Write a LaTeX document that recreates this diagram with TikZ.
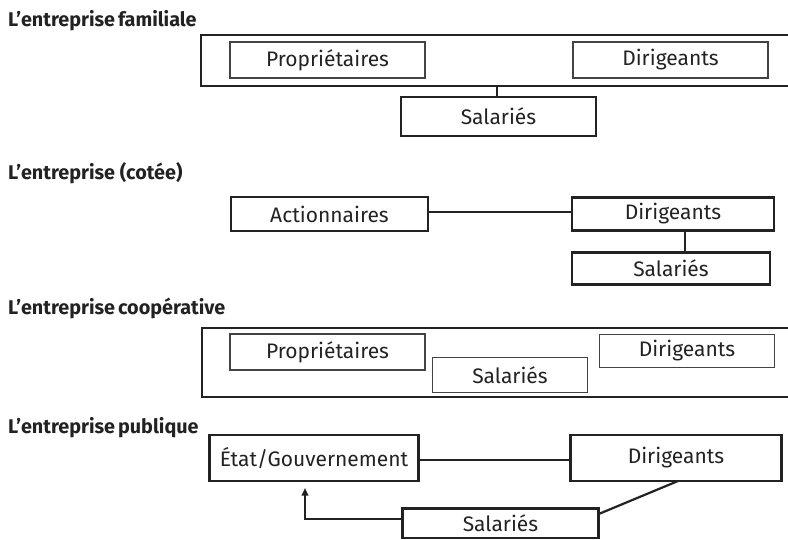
\documentclass[tikz,border=0pt]{standalone}
\usepackage{fontspec}
\setmainfont{Fira Sans}
\usetikzlibrary{arrows.meta}
\definecolor{ink}{HTML}{222222}
\tikzset{
  sz/.style 2 args={minimum width=#1pt, minimum height=#2pt},
  box/.style={draw=ink, text=ink, rectangle, inner sep=0pt, outer sep=0pt,
    font=\fontsize{21}{25}\selectfont},
  thinbox/.style={box, line width=1.3pt, draw=ink!85},
  thickbox/.style={box, line width=2.6pt},
  frame/.style={draw=ink, line width=2.8pt},
  link/.style={draw=ink, line width=2.2pt},
  titletext/.style={anchor=base west, inner sep=0pt, text=ink,
    font=\fontsize{19.8}{23}\selectfont\bfseries}
}
\begin{document}
\begin{tikzpicture}[x=1pt,y=-1pt]
\useasboundingbox (0,0) rectangle (788,540);

% ---------- Section 1 ----------
\node[titletext] (t1) at (8,26.5) {L’entreprise\hspace{3pt}familiale};
\draw[frame] (788,35) -- (201,35) -- (201,86) -- (788,86);
\node[thinbox, sz={195}{36}] (p1) at (327.5,60) {Propriétaires};
\node[thinbox, sz={195}{36}] (d1) at (670.5,60) {Dirigeants};
\node[thickbox, sz={195}{39}] (s1) at (498.5,116.5) {Salariés};
\coordinate (f1) at (497,86);
\draw[link] (f1) -- (f1 |- s1.north);

% ---------- Section 2 ----------
\node[titletext] (t2) at (8,180) {L’entreprise (cotée)};
\node[thickbox, sz={197}{34}] (act) at (329.5,214) {Actionnaires};
\node[thickbox, sz={202}{33.5}] (d2) at (673,214) {Dirigeants};
\node[thickbox, sz={198}{31.5}] (s2) at (671,268.5) {Salariés};
\draw[link] ([yshift=2pt]act.east) -- ([yshift=2pt]d2.west);
\draw[link] ([xshift=12pt]d2.south) -- ([xshift=12pt]d2.south |- s2.north);

% ---------- Section 3 ----------
\node[titletext] (t3) at (8,315) {L’entreprise\hspace{3pt}coopérative};
\draw[frame] (788,328) -- (202,328) -- (202,397) -- (788,397);
\node[thinbox, sz={195}{36}] (p3) at (327.5,352) {Propriétaires};
\node[thinbox, sz={155.5}{34.5}] (s3) at (510,375) {Salariés};
\node[thinbox, sz={175.5}{33}] (d3) at (687,351) {Dirigeants};

% ---------- Section 4 ----------
\node[titletext] (t4) at (8,433) {L’entreprise\hspace{3pt}publique};
\node[thickbox, sz={209.5}{46}] (st) at (314,458) {État/Gouvernement};
\node[thickbox, sz={211}{46}] (d4) at (676,458) {Dirigeants};
\node[thickbox, sz={195.5}{29.7}] (s4) at (500.5,523.2) {Salariés};
\draw[link] ([yshift=-2pt]st.east) -- ([yshift=-2pt]d4.west);
\coordinate (a4) at (305,488);
\draw[link, -{Triangle[width=6.5pt,length=7.5pt]}] ([yshift=4pt]s4.west) -| (a4);
\draw[link] ([yshift=9pt]s4.east) -- ([xshift=2pt]d4.south);
\end{tikzpicture}
\end{document}
